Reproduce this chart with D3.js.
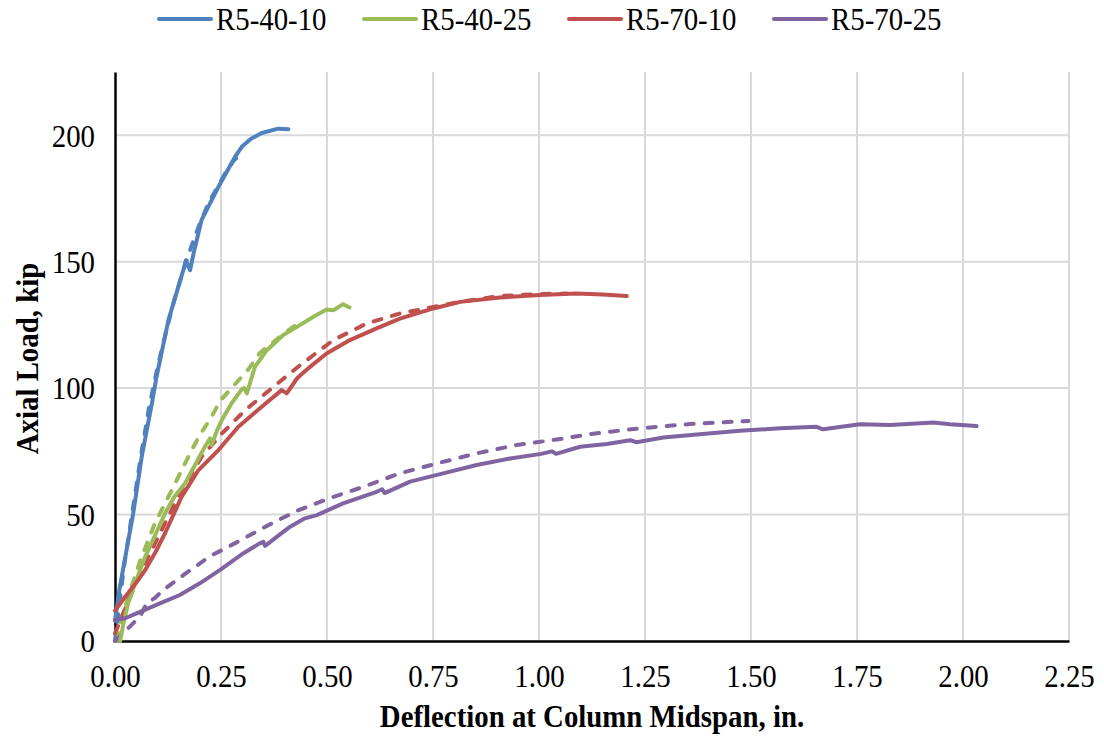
<!DOCTYPE html>
<html>
<head>
<meta charset="utf-8">
<script src="https://cdn.jsdelivr.net/npm/d3@7"></script>
<style>
  body { margin: 0; background: #fff; }
  svg { display: block; font-family: "Liberation Serif", "Times New Roman", serif; }
</style>
</head>
<body>
<svg id="chart" width="1104" height="738"></svg>
<script>
// deflection (in.), axial load (kip) — solid = test, dashed = model
const r5_40_10_test = [[0,8],[0.01,20],[0.024,33],[0.043,50.5],[0.063,72.8],[0.087,94],[0.098,104.5],[0.126,126.9],[0.161,146.6],[0.167,150.5],[0.177,146.6],[0.185,153],[0.204,166.4],[0.244,179.6],[0.283,191.4],[0.299,195.4],[0.32,198.5],[0.346,200.9],[0.385,202.6],[0.409,202.4]]
const r5_40_10_model = [[0,0],[0.01,14],[0.02,28],[0.04,50],[0.06,72],[0.08,92],[0.10,108],[0.12,122],[0.14,135],[0.16,146],[0.18,156],[0.20,165],[0.22,173],[0.24,179],[0.26,185],[0.28,190],[0.30,193]]

const r5_40_25_test = [[0.012,0],[0.02,7],[0.031,14.9],[0.05,24],[0.071,33.3],[0.095,42],[0.118,50.5],[0.14,57],[0.165,62.3],[0.19,70],[0.212,76.8],[0.224,80.1],[0.228,77.5],[0.24,83],[0.252,87.4],[0.275,94],[0.299,99.5],[0.305,100],[0.311,97.9],[0.33,108.4],[0.358,115],[0.397,121],[0.436,124.9],[0.468,128.2],[0.499,131.1],[0.515,130.8],[0.538,133.2],[0.553,131.9]]
const r5_40_25_model = [[0.005,0],[0.015,8],[0.031,17.5],[0.06,32],[0.094,46.5],[0.134,59.7],[0.181,75.5],[0.2,81.4],[0.228,88.7],[0.248,95],[0.275,100],[0.315,107.5],[0.342,114],[0.389,120.3],[0.42,124.2],[0.444,126.2]]

const r5_70_10_test = [[0,12],[0.024,17.5],[0.05,23],[0.071,28],[0.095,35],[0.118,42.6],[0.157,57],[0.197,67.6],[0.244,75.5],[0.291,84.7],[0.346,92.6],[0.393,99.2],[0.405,97.9],[0.43,104],[0.46,108.4],[0.499,113.7],[0.554,119],[0.617,123.6],[0.672,127.5],[0.751,131.5],[0.814,134.1],[0.908,135.8],[1.002,136.8],[1.089,137.4],[1.15,137],[1.207,136.4]]
const r5_70_10_model = [[0,3],[0.016,9.6],[0.055,25.4],[0.102,41.2],[0.149,57],[0.204,72.8],[0.252,82],[0.307,91.3],[0.37,100],[0.436,109],[0.515,119],[0.594,125.6],[0.672,129.5],[0.751,132.1],[0.814,134.1],[0.908,136.4],[1.0,137.2],[1.065,137.4]]

const r5_70_25_test = [[0,8.3],[0.024,9],[0.051,10.9],[0.106,14.9],[0.153,18.2],[0.2,22.8],[0.248,28.1],[0.303,34.7],[0.34,38.5],[0.35,39.2],[0.354,37.6],[0.413,45.2],[0.448,48.5],[0.476,49.8],[0.538,54.4],[0.617,59],[0.63,60],[0.636,58.5],[0.696,63],[0.774,66.3],[0.853,69.6],[0.932,72.2],[1.005,74],[1.03,75],[1.04,74],[1.097,76.8],[1.16,77.9],[1.215,79.4],[1.23,78.6],[1.293,80.5],[1.372,81.7],[1.474,83.1],[1.568,84.1],[1.655,84.7],[1.67,83.7],[1.757,85.7],[1.828,85.4],[1.93,86.4],[1.969,85.7],[2.032,85]]
const r5_70_25_model = [[0,0],[0.035,5.7],[0.06,10],[0.075,15],[0.094,17],[0.114,20.2],[0.165,26.5],[0.224,33.5],[0.287,39],[0.358,45.5],[0.429,51.5],[0.507,56.5],[0.586,61],[0.672,66.3],[0.759,70.2],[0.853,74.2],[0.947,77.5],[1.042,79.7],[1.12,81.8],[1.238,84.1],[1.356,85.8],[1.494,87]]

const seriesNames = ["R5-40-10", "R5-40-25", "R5-70-10", "R5-70-25"]
const seriesColors = ["#4f81bd", "#9bbb59", "#c0504d", "#8064a2"]
const testCurves = [r5_40_10_test, r5_40_25_test, r5_70_10_test, r5_70_25_test]
const modelCurves = [r5_40_10_model, r5_40_25_model, r5_70_10_model, r5_70_25_model]

const xTicks = [0, 0.25, 0.5, 0.75, 1, 1.25, 1.5, 1.75, 2, 2.25]
const yTicks = [0, 50, 100, 150, 200]

const SX = 0.93  // text is a bit narrow in the original

const margin = { left: 115, top: 72, right: 35, bottom: 97 }
const width = 1104, height = 738
const svg = d3.select("#chart")

const x = d3.scaleLinear().domain([0, 2.25]).range([margin.left, width - margin.right])
const y = d3.scaleLinear().domain([0, 225]).range([height - margin.bottom, margin.top])

// grid
svg.append("g")
  .selectAll("line")
  .data(xTicks.slice(1))
  .join("line")
  .attr("x1", d => x(d)).attr("x2", d => x(d))
  .attr("y1", y(0)).attr("y2", y(225))
  .attr("stroke", "#d9d9d9").attr("stroke-width", 2)

svg.append("g")
  .selectAll("line")
  .data(yTicks.slice(1))
  .join("line")
  .attr("x1", x(0)).attr("x2", x(2.25))
  .attr("y1", d => y(d)).attr("y2", d => y(d))
  .attr("stroke", "#d9d9d9").attr("stroke-width", 2)

// axes
const xAxis = svg.append("g")
  .attr("transform", `translate(0, ${y(0)})`)
  .call(d3.axisBottom(x).tickValues(xTicks).tickFormat(d3.format(".2f")).tickSize(0).tickPadding(0))
xAxis.select(".domain").attr("stroke", "#000").attr("stroke-width", 2.5)
xAxis.selectAll("text")
  .attr("y", 46).attr("dy", null)
  .attr("font-size", 31).attr("font-family", "Liberation Serif").attr("fill", "#000")
  .attr("transform", `scale(${SX},1)`)

const yAxis = svg.append("g")
  .attr("transform", `translate(${x(0)}, 0)`)
  .call(d3.axisLeft(y).tickValues(yTicks).tickSize(0).tickPadding(0))
yAxis.select(".domain").attr("stroke", "#000").attr("stroke-width", 2.5)
yAxis.selectAll("text")
  .attr("x", -20 / SX).attr("dy", "0.35em")
  .attr("font-size", 31).attr("font-family", "Liberation Serif").attr("fill", "#000")
  .attr("transform", `scale(${SX},1)`)

// curves
const line = d3.line().x(d => x(d[0])).y(d => y(d[1]))

const plot = svg.append("g")
plot.selectAll("path.model")
  .data(modelCurves)
  .join("path")
  .attr("class", "model")
  .attr("d", line)
  .attr("fill", "none")
  .attr("stroke", (d, i) => seriesColors[i])
  .attr("stroke-width", 4)
  .attr("stroke-dasharray", "8,11")
  .attr("stroke-linecap", "round")
  .attr("stroke-linejoin", "round")

plot.selectAll("path.test")
  .data(testCurves)
  .join("path")
  .attr("class", "test")
  .attr("d", line)
  .attr("fill", "none")
  .attr("stroke", (d, i) => seriesColors[i])
  .attr("stroke-width", 4)
  .attr("stroke-linecap", "round")
  .attr("stroke-linejoin", "round")

// titles
svg.append("g")
  .attr("transform", `translate(${(x(0) + x(2.25)) / 2}, 727)`)
  .append("text")
  .attr("text-anchor", "middle")
  .attr("font-size", 31).attr("font-weight", "bold")
  .attr("transform", `scale(${SX},1)`)
  .text("Deflection at Column Midspan, in.")

svg.append("g")
  .attr("transform", `translate(38, ${y(112.5) + 2}) rotate(-90)`)
  .append("text")
  .attr("text-anchor", "middle")
  .attr("font-size", 31).attr("font-weight", "bold")
  .attr("transform", `scale(${SX},1)`)
  .text("Axial Load, kip")

// legend
const legend = svg.append("g")
  .selectAll("g")
  .data(seriesNames)
  .join("g")
  .attr("transform", (d, i) => `translate(${159 + i * 205}, 19)`)

legend.append("line")
  .attr("x1", 0).attr("x2", 52)
  .attr("stroke", (d, i) => seriesColors[i])
  .attr("stroke-width", 4).attr("stroke-linecap", "round")

legend.append("g")
  .attr("transform", "translate(57, 11)")
  .append("text")
  .attr("font-size", 31)
  .attr("transform", `scale(${SX},1)`)
  .text(d => d)
</script>
</body>
</html>
